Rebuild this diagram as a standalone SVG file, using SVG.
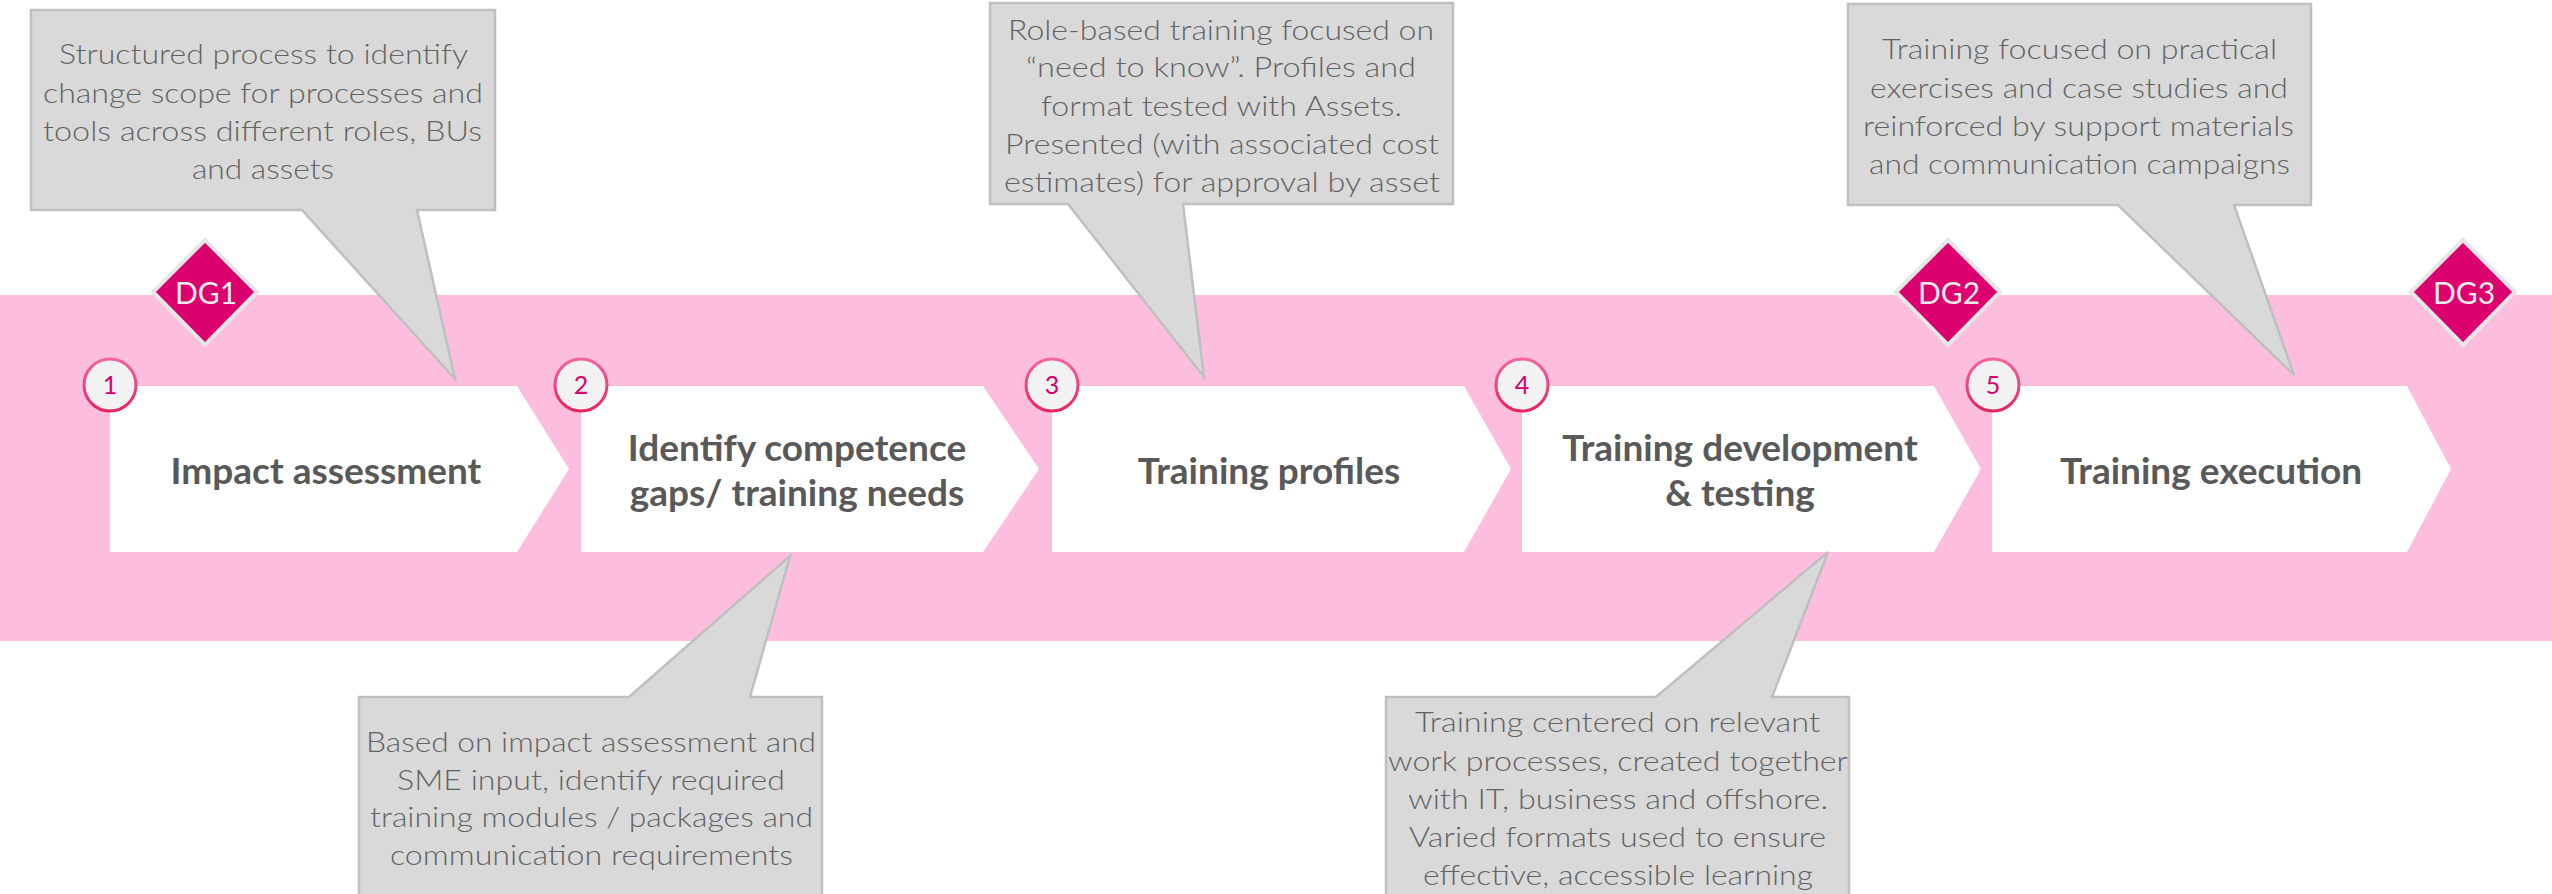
<svg xmlns="http://www.w3.org/2000/svg" width="2552" height="894" viewBox="0 0 2552 894">
<defs>
<linearGradient id="ring" x1="0" y1="0" x2="0" y2="1">
<stop offset="0" stop-color="#F5639E"/>
<stop offset="1" stop-color="#E8245F"/>
</linearGradient>
<style>
.band{fill:#FDBDDD}
.chev{fill:#FFFFFF}
.lbl{font-family:Lato,"Open Sans","Liberation Sans",sans-serif;font-weight:700;font-size:37px;fill:#595959;text-anchor:middle}
.ring{fill:#F2F2F2;stroke:url(#ring);stroke-width:3}
.num{font-family:Lato,"Open Sans","Liberation Sans",sans-serif;font-size:25px;fill:#D6006E;text-anchor:middle}
.dia{fill:#DC006E;stroke:#E6E6E6;stroke-width:4}
.dg{font-family:Lato,"Open Sans","Liberation Sans",sans-serif;font-size:30px;fill:#EBEBEB;text-anchor:middle}
.call{fill:#D9D9D9;stroke:#BFBFBF;stroke-width:2.5;stroke-linejoin:miter}
.ct{font-family:"Lato Light",Lato,"Open Sans","Liberation Sans",sans-serif;font-weight:300;font-size:28px;fill:#636363;text-anchor:middle}
</style>
</defs>
<rect class="band" x="0" y="295" width="2552" height="346"/>

<g id="step1">
<polygon class="chev" points="110,386 517,386 569,469 517,552 110,552"/>
<text class="lbl" x="326" y="484">Impact assessment</text>
<circle class="ring" cx="110" cy="385" r="26"/>
<text class="num" x="110" y="394">1</text>
</g>
<g id="step2">
<polygon class="chev" points="581,386 983,386 1039,469 983,552 581,552"/>
<text class="lbl" x="797" y="461">Identify competence</text>
<text class="lbl" x="797" y="506">gaps/ training needs</text>
<circle class="ring" cx="581" cy="385" r="26"/>
<text class="num" x="581" y="394">2</text>
</g>
<g id="step3">
<polygon class="chev" points="1052,386 1464,386 1511,469 1464,552 1052,552"/>
<text class="lbl" x="1269" y="484">Training profiles</text>
<circle class="ring" cx="1052" cy="385" r="26"/>
<text class="num" x="1052" y="394">3</text>
</g>
<g id="step4">
<polygon class="chev" points="1522,386 1934,386 1981,469 1934,552 1522,552"/>
<text class="lbl" x="1740" y="461">Training development</text>
<text class="lbl" x="1740" y="506">&amp; testing</text>
<circle class="ring" cx="1522" cy="385" r="26"/>
<text class="num" x="1522" y="394">4</text>
</g>
<g id="step5">
<polygon class="chev" points="1992,386 2407,386 2451,469 2407,552 1992,552"/>
<text class="lbl" x="2211" y="484">Training execution</text>
<circle class="ring" cx="1993" cy="385" r="26"/>
<text class="num" x="1993" y="394">5</text>
</g>

<g id="dg1">
<polygon class="dia" points="205,240 257,292 205,345 153,292"/>
<text class="dg" x="206" y="304">DG1</text>
</g>
<g id="dg2">
<polygon class="dia" points="1948,240 2000,292 1948,345 1896,292"/>
<text class="dg" x="1949" y="304">DG2</text>
</g>
<g id="dg3">
<polygon class="dia" points="2463,240 2515,292 2463,345 2411,292"/>
<text class="dg" x="2464" y="304">DG3</text>
</g>

<g id="callout1">
<path class="call" d="M31,10 H495 V210 H417 L455,379 L302,210 H31 Z"/>
<text class="ct" x="263.5" y="64" textLength="409" lengthAdjust="spacingAndGlyphs">Structured process to identify</text>
<text class="ct" x="263" y="102.5" textLength="440" lengthAdjust="spacingAndGlyphs">change scope for processes and</text>
<text class="ct" x="262.5" y="141" textLength="439" lengthAdjust="spacingAndGlyphs">tools across different roles, BUs</text>
<text class="ct" x="263" y="179" textLength="142" lengthAdjust="spacingAndGlyphs">and assets</text>
</g>
<g id="callout2">
<path class="call" d="M359,697 H629 L790,556 L750,697 H822 V900 H359 Z"/>
<text class="ct" x="591" y="752" textLength="450" lengthAdjust="spacingAndGlyphs">Based on impact assessment and</text>
<text class="ct" x="591" y="790" textLength="388" lengthAdjust="spacingAndGlyphs">SME input, identify required</text>
<text class="ct" x="591.5" y="827" textLength="443" lengthAdjust="spacingAndGlyphs">training modules / packages and</text>
<text class="ct" x="591.5" y="865" textLength="403" lengthAdjust="spacingAndGlyphs">communication requirements</text>
</g>
<g id="callout3">
<path class="call" d="M990,3 H1453 V204 H1183 L1204,377 L1068,204 H990 Z"/>
<text class="ct" x="1221" y="40" textLength="426" lengthAdjust="spacingAndGlyphs">Role-based training focused on</text>
<text class="ct" x="1221" y="77" textLength="390" lengthAdjust="spacingAndGlyphs">“need to know”. Profiles and</text>
<text class="ct" x="1221.5" y="116" textLength="361" lengthAdjust="spacingAndGlyphs">format tested with Assets.</text>
<text class="ct" x="1222" y="154" textLength="434" lengthAdjust="spacingAndGlyphs">Presented (with associated cost</text>
<text class="ct" x="1222" y="192" textLength="436" lengthAdjust="spacingAndGlyphs">estimates) for approval by asset</text>
</g>
<g id="callout4">
<path class="call" d="M1386,697 H1656 L1828,552 L1772,697 H1849 V900 H1386 Z"/>
<text class="ct" x="1617.5" y="732" textLength="405" lengthAdjust="spacingAndGlyphs">Training centered on relevant</text>
<text class="ct" x="1618" y="771" textLength="460" lengthAdjust="spacingAndGlyphs">work processes, created together</text>
<text class="ct" x="1618" y="809" textLength="420" lengthAdjust="spacingAndGlyphs">with IT, business and offshore.</text>
<text class="ct" x="1617.5" y="847" textLength="417" lengthAdjust="spacingAndGlyphs">Varied formats used to ensure</text>
<text class="ct" x="1618" y="885" textLength="390" lengthAdjust="spacingAndGlyphs">effective, accessible learning</text>
</g>
<g id="callout5">
<path class="call" d="M1848,4 H2311 V205 H2234 L2294,375 L2118,205 H1848 Z"/>
<text class="ct" x="2079.5" y="59" textLength="395" lengthAdjust="spacingAndGlyphs">Training focused on practical</text>
<text class="ct" x="2079" y="98" textLength="418" lengthAdjust="spacingAndGlyphs">exercises and case studies and</text>
<text class="ct" x="2078.5" y="136" textLength="431" lengthAdjust="spacingAndGlyphs">reinforced by support materials</text>
<text class="ct" x="2079.5" y="174" textLength="421" lengthAdjust="spacingAndGlyphs">and communication campaigns</text>
</g>
<g id="connectors"></g>
</svg>
